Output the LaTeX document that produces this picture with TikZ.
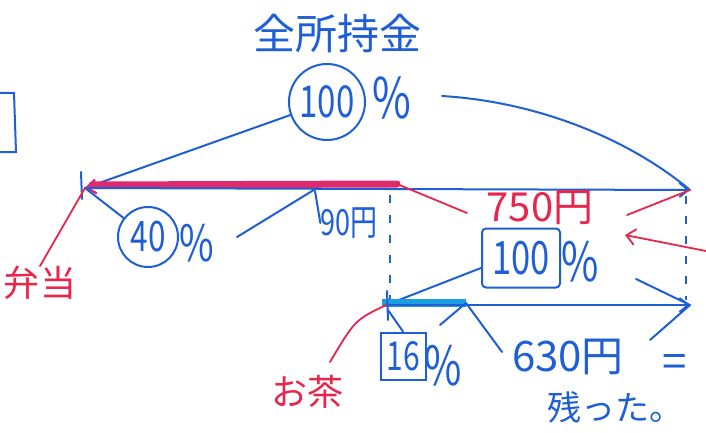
\documentclass[tikz,border=0pt]{standalone}
\usepackage{fontspec}
\setmainfont{Noto Sans CJK JP}
\newfontfamily\narrowjp[FakeStretch=0.75]{Noto Sans CJK JP}
\usetikzlibrary{arrows.meta}
\definecolor{pen}{HTML}{1F5FD6}
\definecolor{pinkbar}{HTML}{E02A6E}
\definecolor{redpen}{HTML}{E8254A}
\definecolor{cyanbar}{HTML}{1AA0E0}
\begin{document}
\begin{tikzpicture}[x=1pt,y=-1pt,
  pen/.style={draw=pen, line width=2pt, line cap=round},
  rpen/.style={draw=redpen, line width=1.8pt, line cap=round},
  btxt/.style={text=pen, inner sep=0pt},
  rtxt/.style={text=redpen, inner sep=0pt},
  barb/.style={-{Straight Barb[length=9pt,width=14pt,line width=2pt]}},
  dashline/.style={draw=pen, line width=1.6pt, dash pattern=on 8pt off 12pt},
  fs/.style={font=\fontsize{#1}{#1}\selectfont},
  nfs/.style={font=\narrowjp\fontsize{#1}{#1}\selectfont}
]
\useasboundingbox (0,0) rectangle (706,433);
% left box fragment
\draw[pen] (-5,93) -- (14,93) -- (16,152) -- (-5,152);

% coordinates
\coordinate (A) at (85,188);
\coordinate (B) at (690,190);
\coordinate (P) at (397,184);
\coordinate (C) at (386,305);
\coordinate (D) at (690,305);
\coordinate (Q) at (466,303);
\coordinate (ltop) at (81,172);
\coordinate (lbot) at (82,199);
\coordinate (mtop) at (387,291);
\coordinate (mbot) at (388,320);

% title
\node[btxt, fs=42] (title) at (337,34) {全所持金};

% 100% circle
\node[btxt, nfs=44, draw=pen, line width=2pt, circle, minimum size=76pt] (c100) at (327,102) {100};
\node[btxt, nfs=56] (p100) at (392,98) {\%};
\coordinate (r1) at (442,96);
\draw[pen] (c100) -- (A);
\draw[pen] (r1) .. controls (540,102) and (630,140) .. (B);

% pink bar
\draw[draw=pinkbar, line width=7pt, line cap=round] (P) -- (92,185);
\draw[draw=pinkbar, line width=2.4pt, -{Straight Barb[length=9pt,width=14pt,line width=2.4pt]}] (100,186) -- (A);
% main top line
\draw[pen, barb] (A) -- (B);
\draw[pen] (ltop) -- (lbot);

% dashed verticals
\draw[dashline] (390,195) -- (390,300);
\draw[dashline] (686,196) -- (686,300);

% 40%
\node[btxt, nfs=42, draw=pen, line width=2pt, circle, minimum size=60pt] (c40) at (148,237) {40};
\node[btxt, nfs=50] (p40) at (197,243) {\%};
\coordinate (l40) at (237,237);
\coordinate (t40) at (317,188);
\draw[pen] (c40) -- (A);
\draw[pen] (l40) -- (t40);
\node[btxt, nfs=36] (n90) at (349,223) {90円};
\draw[pen] (315,191) -- (n90.west);

% 弁当
\node[rtxt, fs=36] (bento) at (40,283) {弁当};
\draw[rpen] (bento.north) -- (A);

% 750円
\node[rtxt, fs=40] (n750) at (540,208) {750円};
\coordinate (rl1) at (467,213);
\coordinate (rr1) at (627,215);
\draw[rpen] (rl1) -- (P);
\draw[rpen] (rr1) -- (B);
\coordinate (rin) at (706,251);
\coordinate (rtip) at (625,235);
\draw[rpen, -{Straight Barb[length=9pt,width=16pt,line width=1.8pt]}] (rin) -- (rtip);

% 100% box
\node[btxt, nfs=46, draw=pen, line width=2pt, rounded corners=4pt, minimum width=78pt, minimum height=59pt] (b100) at (521,258) {100};
\node[btxt, nfs=54] (pb100) at (580,262) {\%};
\coordinate (rb1) at (636,279);
\draw[pen] (b100.west) ++(0,10) -- (C);
\draw[pen] (rb1) -- (D);

% second line
\draw[draw=cyanbar, line width=8pt] (382,303) -- (Q);
\draw[pen, barb] (C) -- (D);
\draw[pen] (mtop) -- (mbot);

% 16%
\node[btxt, nfs=40, draw=pen, line width=2pt, minimum width=45pt, minimum height=47pt] (b16) at (403,356) {16};
\node[btxt, nfs=54] (p16) at (443,366) {\%};
\draw[pen] (b16.north) -- (388,310);
\draw[pen] (440,325) -- (Q);

% 630円
\node[btxt, fs=42] (n630) at (568,357) {630円};
\coordinate (s630) at (502,352);
\draw[pen] (Q) -- (s630);
\node[btxt, fs=44] (eq) at (675,366) {=};
\coordinate (e1) at (650,340);
\draw[pen] (e1) -- (D);
\node[btxt, fs=34] (rest) at (615,407) {残った。};

% お茶
\node[rtxt, fs=36] (ocha) at (307,392) {お茶};
\draw[rpen] (C) .. controls (355,320) .. (330,362);
\end{tikzpicture}
\end{document}
